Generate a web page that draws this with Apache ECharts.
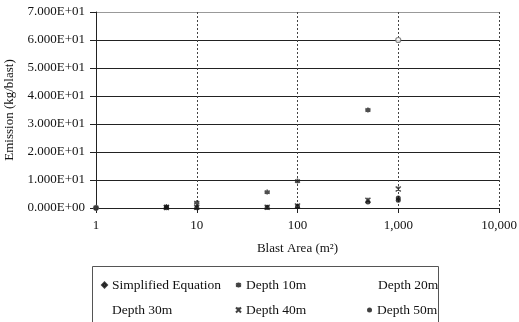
<!DOCTYPE html>
<html><head><meta charset="utf-8">
<script src="https://cdn.jsdelivr.net/npm/echarts@6/dist/echarts.min.js"></script>
<style>html,body{margin:0;padding:0;background:#fff}#c{width:519px;height:322px}</style>
</head><body><div id="c"></div>
<script>
const seriesNames = ['Simplified Equation','Depth 10m','Depth 20m','Depth 30m','Depth 40m','Depth 50m'];
const simplified = [[1,0.06],[1000,60]];
const depth10 = [[5,0.5],[10,1.9],[50,5.7],[100,9.6],[500,35]];
const depth20 = [];
const depth30 = [];
const depth40 = [[5,0.2],[10,0.3],[50,0.3],[100,0.7],[500,2.8],[1000,6.8]];
const depth50 = [[1,0],[5,0.1],[10,0.1],[50,0.2],[100,0.5],[500,2.1],[1000,3.6],[1000,2.8]];
const yTicks = [0,10,20,30,40,50,60,70];
const xTicks = [1,10,100,1000,10000];

const FONT = 'Liberation Serif';
const ASTER = 'path://M5 0L5 10M0 2L10 8M0 8L10 2M0 5L10 5';
const XMARK = 'path://M0 0L10 10M10 0L0 10M5 0L5 4';

function sci(v){
  if (v === 0) return '0.000E+00';
  const e = Math.floor(Math.log10(v) + 1e-9);
  const m = v / Math.pow(10, e);
  const a = Math.abs(e);
  return m.toFixed(3) + 'E' + (e < 0 ? '-' : '+') + (a < 10 ? '0' + a : a);
}

const chart = echarts.init(document.getElementById('c'));
const legPos = [[101,278],[235,278],[373,278],[107,303],[235,303],[367,303]];
const legendIcons = ['diamond', ASTER, 'circle', 'circle', XMARK, 'circle'];
const legends = seriesNames.map((n,i)=>({
  left: legPos[i][0], top: legPos[i][1],
  itemWidth: (i===2||i===3)? 0 : 5, itemHeight: 5, itemGap: 0,
  padding: 0,
  textStyle: {fontFamily: FONT, fontSize: 13.5, color: '#111', padding:[0,0,0,0]},
  data: [{name: n, icon: legendIcons[i], itemStyle: (i===2||i===3)?{opacity:0}:{color:'#111', borderColor:'#111'}}],
  selectedMode: false
}));

const series = [
  {name: seriesNames[0], data: simplified, symbol:'circle', symbolSize:5, itemStyle:{color:'#fff', borderColor:'#666', borderWidth:1.2}},
  {name: seriesNames[1], data: depth10, symbol:ASTER, symbolSize:5, itemStyle:{color:'#222', borderColor:'#222', borderWidth:1.5}},
  {name: seriesNames[2], data: depth20, symbol:'circle', symbolSize:4, itemStyle:{color:'#ddd'}},
  {name: seriesNames[3], data: depth30, symbol:'circle', symbolSize:4, itemStyle:{color:'#ddd'}},
  {name: seriesNames[4], data: depth40, symbol:XMARK, symbolSize:5, itemStyle:{color:'#222', borderColor:'#222', borderWidth:1.5}},
  {name: seriesNames[5], data: depth50, symbol:'circle', symbolSize:5, itemStyle:{color:'#111'}}
].map(s=>Object.assign({type:'scatter', z:5}, s));

chart.setOption({
  animation: false,
  backgroundColor: '#fff',
  grid: {left: 96, right: 20, top: 12, bottom: 114, containLabel: false, outerBoundsMode: 'none'},
  legend: legends,
  graphic: [{type:'rect', shape:{x:92.5, y:266.5, width:346, height:70}, style:{fill:'none', stroke:'#555', lineWidth:1}, z:-1}],
  xAxis: {
    type: 'log', logBase: 10, min: xTicks[0], max: xTicks[xTicks.length-1],
    name: 'Blast Area (m²)', nameLocation: 'middle', nameGap: 34,
    nameTextStyle: {fontFamily: FONT, fontSize: 13, color: '#111'},
    axisLine: {lineStyle: {color: '#222', width: 1}},
    axisTick: {show: true, length: 5, lineStyle:{color:'#222'}},
    minorTick: {show: false},
    axisLabel: {fontFamily: FONT, fontSize: 13, color: '#111', margin: 11,
      formatter: v => Math.round(v).toLocaleString('en-US')},
    splitLine: {show: true, lineStyle: {color: '#444', type: [2,2], width: 1}}
  },
  yAxis: {
    type: 'value', min: yTicks[0], max: yTicks[yTicks.length-1], interval: 10,
    name: 'Emission (kg/blast)', nameLocation: 'middle', nameGap: 80,
    nameTextStyle: {fontFamily: FONT, fontSize: 13, color: '#111'},
    axisLine: {show: true, lineStyle: {color: '#222', width: 1}},
    axisTick: {show: true, length: 6, lineStyle:{color:'#222'}},
    axisLabel: {fontFamily: FONT, fontSize: 13, color: '#111', margin: 11, formatter: sci},
    splitLine: {show: true, lineStyle: {color: ['#222','#222','#222','#222','#222','#222','#222','#999'], width: 1}}
  },
  series: series
});
</script></body></html>
